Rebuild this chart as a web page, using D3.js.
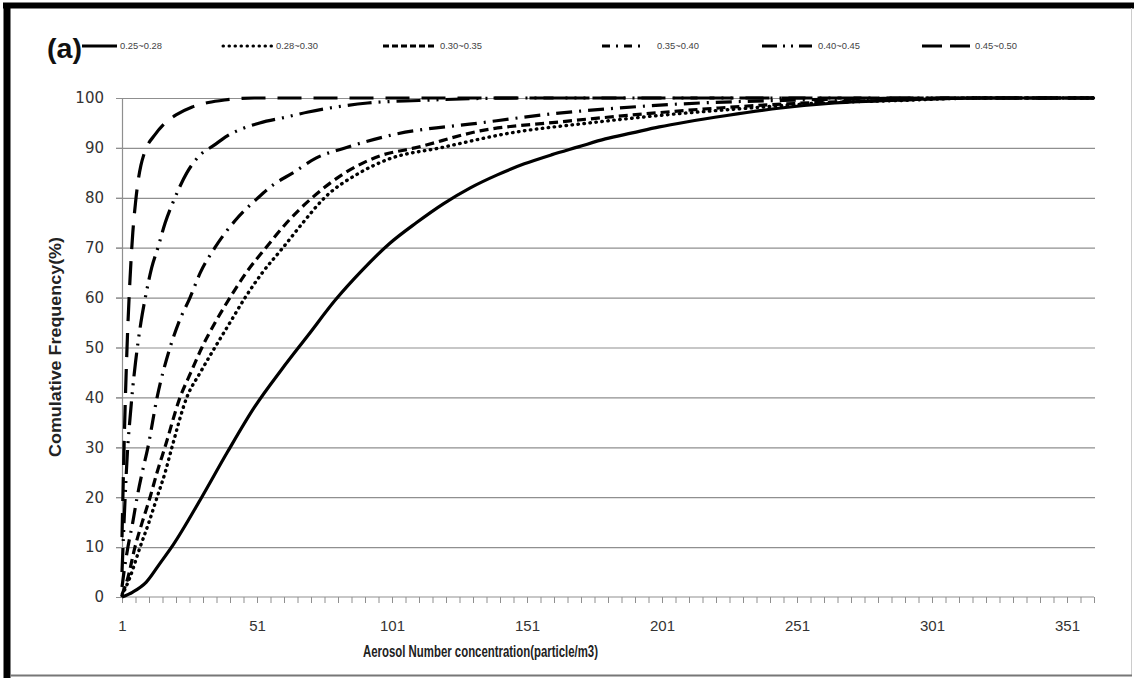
<!DOCTYPE html>
<html>
<head>
<meta charset="utf-8">
<script src="https://cdn.jsdelivr.net/npm/d3@7/dist/d3.min.js"></script>
<style>
  html, body { margin: 0; padding: 0; background: #fff; }
  svg { display: block; }
</style>
</head>
<body>
<svg id="chart" width="1134" height="678"></svg>
<script>
// ---- data (category index, cumulative frequency %) ----
const seriesNames = ["0.25~0.28", "0.28~0.30", "0.30~0.35", "0.35~0.40", "0.40~0.45", "0.45~0.50"];
const xTickLabels = [1, 51, 101, 151, 201, 251, 301, 351];
const yTickLabels = [0, 10, 20, 30, 40, 50, 60, 70, 80, 90, 100];

const s1 = [[1,0],[5,1],[10,3],[15,6.7],[20,10.5],[30,19.5],[40,29],[50,38],[60,45.5],[70,52.5],[80,59.5],[90,65.5],[100,70.8],[110,75],[120,78.8],[130,82],[140,84.6],[150,86.8],[160,88.6],[170,90.2],[180,91.8],[190,93],[200,94.2],[210,95.2],[225,96.5],[245,98],[265,99],[290,99.6],[320,100],[361,100]];
const s2 = [[1,0.3],[4,4],[7.7,10],[11,15],[14,20],[17,25],[19.5,30],[25,40],[30,45],[35.4,50],[41,55],[46.6,60],[53,65],[60.6,70],[68,75],[76,80],[89,85],[100,87.8],[118.8,90],[145,93],[174,95],[200,96.5],[233.6,98],[260,99],[289,99.5],[320,100],[361,100]];
const s3 = [[1,0.5],[3,3.5],[5.8,10],[8.5,15],[11.4,20],[14,25],[16.9,30],[22.5,40],[26.5,45],[30.6,50],[35.5,55],[41,60],[47,65],[54.3,70],[62,75],[71.4,80],[83.6,85],[96.5,88.4],[109.5,90],[133.6,93.4],[163,95.2],[190,96.6],[222,98],[250,98.9],[281.7,99.5],[320,100],[361,100]];
const s4 = [[1,2],[2,6],[3.2,10],[5,15],[6.6,20],[8.5,25],[10.6,30],[14,40],[18.8,50],[22,55],[26.2,60],[30,65],[35.4,70],[43,75.5],[51.4,80],[57,82.6],[64.3,85],[73,88],[83.6,90],[101,92.6],[133.6,95],[160,96.8],[185,98],[215,99],[244.7,99.5],[280,99.9],[320,100],[361,100]];
const s5 = [[1,5],[2,18],[3,29],[4,36],[5,42],[6,47],[8,55],[10,61],[12,66],[14.3,70],[17,75],[20.6,80],[25,85],[30,88.6],[35,90.5],[40,92.4],[52,95],[62,96.2],[70,97.2],[78,98],[92,99],[111,99.5],[148,100],[361,100]];
const s6 = [[1,12],[2,35],[3,52],[4,64],[5,73],[6,79],[7,83.5],[8,86.5],[9,88.5],[10,90],[13,92.5],[17,95],[21,96.6],[27,98.2],[33,99.1],[39,99.6],[50,100],[361,100]];

const seriesData = [s1, s2, s3, s4, s5, s6];
const dashes = [null, "0.5 5.5", "9 5", "16 7 2 7", "24 7 2 7 2 7", "24 12"];
const legendDashes = [null, "0.5 5.5", "6 3", "8 6 2 6", "15 6 2 6 2 6", "20 8"];
const caps = ["butt", "round", "butt", "butt", "butt", "butt"];

// ---- layout ----
const svg = d3.select("#chart");
const x = d3.scaleLinear().domain([1, 361]).range([122, 1094]);
const y = d3.scaleLinear().domain([0, 100]).range([597, 98]);
const narrow = "'Liberation Sans Narrow', 'Arial Narrow', 'Liberation Sans', sans-serif";

// frame
svg.append("line").attr("x1", 3).attr("x2", 1134).attr("y1", 5.5).attr("y2", 5.5)
  .attr("stroke", "#000").attr("stroke-width", 6);
svg.append("line").attr("x1", 7).attr("x2", 7).attr("y1", 3).attr("y2", 678)
  .attr("stroke", "#000").attr("stroke-width", 7);
svg.append("line").attr("x1", 1131.5).attr("x2", 1131.5).attr("y1", 8).attr("y2", 676)
  .attr("stroke", "#ccc").attr("stroke-width", 1);
svg.append("line").attr("x1", 10).attr("x2", 1132).attr("y1", 675.5).attr("y2", 675.5)
  .attr("stroke", "#777").attr("stroke-width", 2);

// gridlines (y)
const gridAxis = d3.axisLeft(y).tickValues(yTickLabels.filter(v => v > 0))
  .tickSize(-(1095 - 116)).tickFormat("");
svg.append("g").attr("transform", "translate(116,0)").call(gridAxis)
  .call(g => g.select(".domain").remove())
  .call(g => g.selectAll("line").attr("stroke", "#8f8f8f").attr("stroke-width", 1.2));

// y axis
const yAxis = d3.axisLeft(y).tickValues(yTickLabels).tickSize(6).tickPadding(6);
svg.append("g").attr("transform", "translate(122,0)").call(yAxis)
  .call(g => g.select(".domain").attr("stroke", "#8f8f8f").attr("stroke-width", 1.2))
  .call(g => g.selectAll("line").attr("stroke", "#8f8f8f"))
  .call(g => g.selectAll("text").attr("font-family", "'DejaVu Sans', sans-serif")
      .attr("font-size", 15).attr("fill", "#333").attr("x", -18));

// x axis: minor ticks every 5 categories, labels every 50
const minorTicks = d3.range(1, 362, 5);
const xAxis = d3.axisBottom(x).tickValues(minorTicks).tickSize(6)
  .tickFormat(d => xTickLabels.includes(d) ? d : "");
svg.append("g").attr("transform", "translate(0,597)").call(xAxis)
  .call(g => g.select(".domain").attr("stroke", "#8f8f8f").attr("stroke-width", 1.2).attr("d", "M122,0H1094"))
  .call(g => g.selectAll("line").attr("stroke", "#8f8f8f"))
  .call(g => g.selectAll("text").attr("font-family", narrow)
      .attr("font-size", 15).attr("fill", "#333").attr("y", 23));

// series lines
const line = d3.line().x(d => x(d[0])).y(d => y(d[1])).curve(d3.curveMonotoneX);
seriesData.forEach((s, i) => {
  svg.append("path").datum(s)
    .attr("d", line)
    .attr("fill", "none")
    .attr("stroke", "#000")
    .attr("stroke-width", i === 1 ? 3.4 : 3.2)
    .attr("stroke-linecap", caps[i])
    .attr("stroke-dasharray", dashes[i]);
});

// axis titles
svg.append("text").attr("x", 363).attr("y", 657)
  .attr("font-family", narrow)
  .attr("font-weight", "bold").attr("font-size", 17).attr("fill", "#222")
  .attr("textLength", 235).attr("lengthAdjust", "spacingAndGlyphs")
  .text("Aerosol Number concentration(particle/m3)");
svg.append("text").attr("transform", "translate(61,457) rotate(-90)")
  .attr("font-family", narrow)
  .attr("font-weight", "bold").attr("font-size", 17).attr("fill", "#222")
  .attr("textLength", 220).attr("lengthAdjust", "spacingAndGlyphs")
  .text("Comulative Frequency(%)");

// panel label
svg.append("text").attr("x", 47).attr("y", 58)
  .attr("font-family", narrow)
  .attr("font-weight", "bold").attr("font-size", 27).attr("fill", "#111")
  .attr("textLength", 35).attr("lengthAdjust", "spacingAndGlyphs")
  .text("(a)");

// legend
const legX1 = [82, 223, 383, 602, 762, 922];
const legX2 = [117, 273, 437, 642, 812, 973];
const legTx = [120, 276, 440, 657, 818, 975];
seriesNames.forEach((name, i) => {
  svg.append("line").attr("x1", legX1[i]).attr("x2", legX2[i]).attr("y1", 46).attr("y2", 46)
    .attr("stroke", "#000").attr("stroke-width", 3)
    .attr("stroke-linecap", caps[i])
    .attr("stroke-dasharray", legendDashes[i]);
  svg.append("text").attr("x", legTx[i]).attr("y", 49)
    .attr("font-family", "'Liberation Sans', sans-serif").attr("font-size", 9).attr("fill", "#444")
    .attr("textLength", 42).attr("lengthAdjust", "spacingAndGlyphs")
    .text(name);
});
</script>
</body>
</html>
